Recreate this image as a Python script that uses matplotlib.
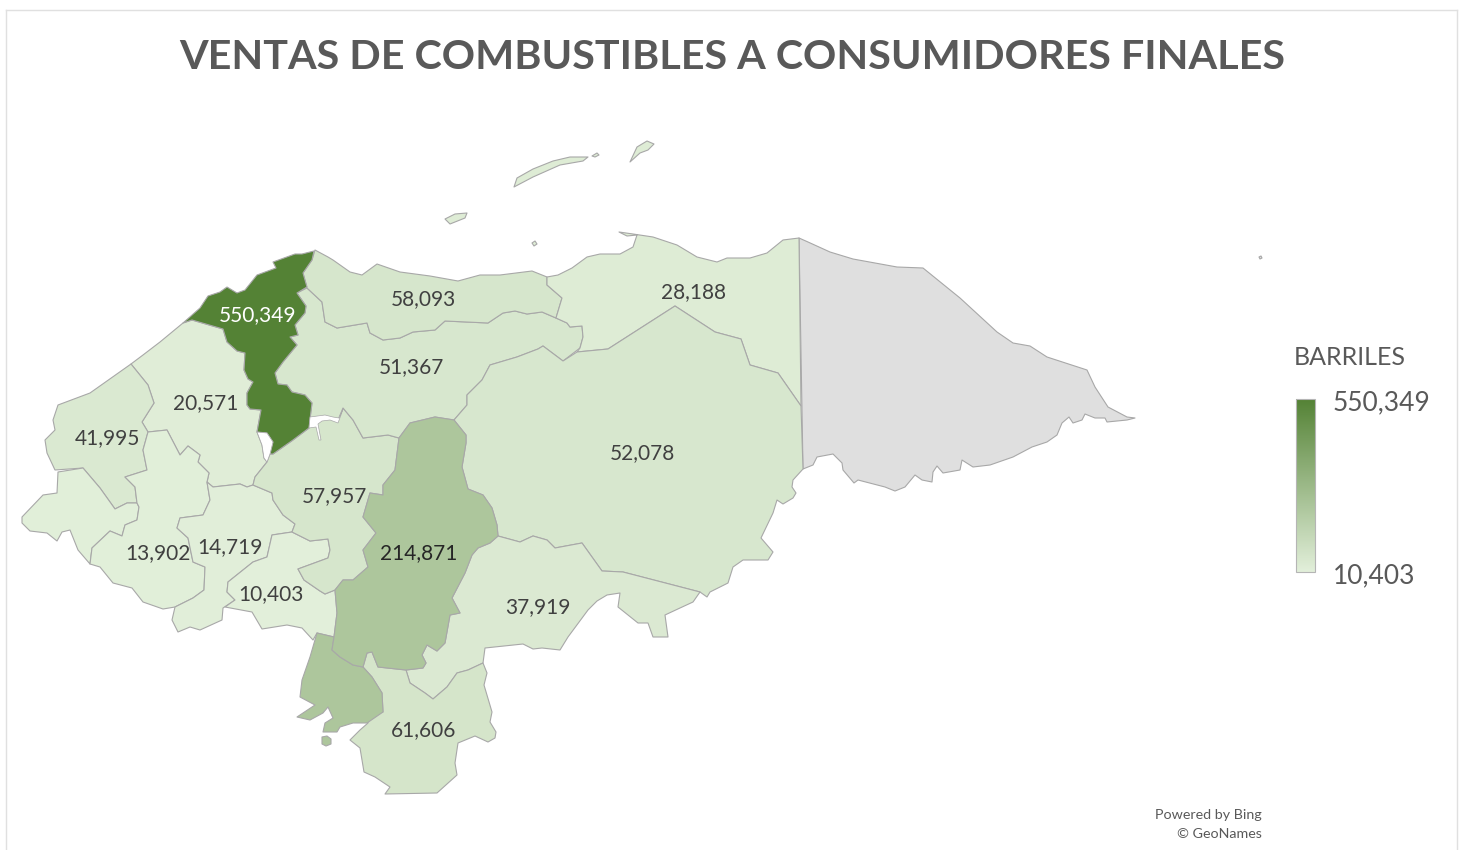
import matplotlib
matplotlib.use("Agg")
import matplotlib.pyplot as plt
from matplotlib.colors import LinearSegmentedColormap, Normalize
from matplotlib.cm import ScalarMappable
from matplotlib.patches import Polygon

TITLE = "VENTAS DE COMBUSTIBLES A CONSUMIDORES FINALES"
LEGEND_TITLE = "BARRILES"
VMIN, VMAX = 10403, 550349
CREDIT = ["Powered by Bing", "© GeoNames"]

# department outlines (map geometry traced in picture coordinates)
cortes = [(314,251),(302,254),(295,254),(273,262),(276,268),(257,275),(245,290),(237,293),(227,287),(220,292),(208,296),(200,308),(183,323),(192,320),(223,329),(227,342),(237,351),(245,353),(244,370),(248,379),(253,382),(247,393),(247,405),(250,409),(261,410),(257,432),(267,433),(273,442),(270,454),(273,454),(293,440),(309,428),(312,403),(305,395),(292,392),(287,385),(278,384),(275,373),(283,362),(297,345),(290,337),(298,335),(295,325),(305,313),(306,306),(297,293),(307,287),(303,273),(312,260)]
atlantida = [(315,250),(328,257),(333,260),(350,272),(362,275),(377,264),(400,272),(430,276),(458,281),(480,275),(500,275),(532,271),(547,277),(547,285),(562,298),(556,318),(542,312),(527,314),(515,311),(503,313),(488,323),(445,321),(435,330),(413,332),(400,338),(383,340),(370,333),(367,323),(337,328),(325,322),(322,302),(307,288),(303,273),(312,260)]
yoro = [(307,288),(322,302),(325,322),(337,328),(367,323),(370,333),(383,340),(400,338),(413,332),(435,330),(445,321),(488,323),(503,313),(515,311),(527,314),(542,312),(556,318),(567,323),(570,327),(582,326),(583,337),(580,348),(563,361),(543,346),(538,349),(517,357),(490,365),(482,380),(467,395),(467,405),(454,420),(435,417),(410,423),(399,438),(388,435),(363,438),(353,420),(343,408),(338,420),(325,416),(310,418),(312,403),(305,395),(292,392),(287,385),(278,384),(275,373),(283,362),(297,345),(290,337),(298,335),(295,325),(305,313),(306,306),(297,293)]
colon = [(547,277),(558,275),(572,268),(587,257),(600,254),(620,254),(633,247),(637,235),(627,236),(619,232),(633,234),(653,237),(677,245),(697,257),(717,262),(727,258),(750,258),(767,253),(783,240),(799,238),(801,406),(778,373),(750,365),(741,339),(715,332),(675,306),(608,349),(577,352),(580,348),(583,337),(582,326),(570,327),(567,323),(556,318),(562,298),(547,285)]
olancho = [(454,420),(467,405),(467,395),(482,380),(490,365),(517,357),(538,349),(543,346),(563,361),(577,352),(608,349),(675,306),(715,332),(741,339),(750,365),(778,373),(801,406),(803,469),(793,480),(792,487),(796,493),(793,498),(783,504),(777,500),(773,513),(761,538),(773,552),(768,560),(743,560),(733,567),(728,583),(710,592),(707,597),(700,592),(623,572),(602,571),(582,543),(555,548),(547,540),(533,536),(520,542),(498,536),(497,525),(492,508),(483,495),(468,489),(462,467),(466,443),(466,435)]
el_paraiso = [(498,536),(520,542),(533,536),(547,540),(555,548),(582,543),(602,571),(623,572),(700,592),(693,602),(680,608),(665,615),(668,637),(653,637),(648,623),(638,623),(618,607),(620,593),(607,595),(597,601),(588,610),(568,637),(560,650),(542,648),(533,649),(523,644),(485,648),(483,663),(468,670),(457,673),(447,687),(433,699),(425,693),(410,683),(406,670),(423,668),(426,663),(422,655),(427,645),(437,651),(445,643),(450,615),(460,613),(452,598),(465,573),(472,555),(478,548),(490,543)]
fco_morazan = [(454,420),(466,435),(466,443),(462,467),(468,489),(483,495),(492,508),(497,525),(498,536),(490,543),(478,548),(472,555),(465,573),(452,598),(460,613),(450,615),(445,643),(437,651),(427,645),(422,655),(426,663),(423,668),(406,670),(378,667),(372,652),(367,653),(363,667),(353,665),(340,657),(332,650),(334,637),(337,613),(335,590),(343,580),(353,580),(368,567),(363,550),(376,533),(363,517),(370,493),(383,495),(383,485),(395,470),(399,438),(410,423),(435,417)]
comayagua = [(270,454),(273,454),(293,440),(309,428),(312,418),(325,416),(338,420),(343,408),(353,420),(363,438),(388,435),(399,438),(395,470),(383,485),(383,495),(370,493),(363,517),(376,533),(363,550),(368,567),(353,580),(343,580),(335,590),(325,594),(320,591),(304,580),(298,569),(328,558),(330,550),(328,539),(310,541),(292,532),(295,524),(283,515),(273,500),(272,493),(253,485),(255,477),(267,462)]
santa_barbara = [(183,323),(192,320),(223,329),(227,342),(237,351),(245,353),(244,370),(248,379),(253,382),(247,393),(247,405),(250,409),(261,410),(257,432),(262,445),(264,458),(267,462),(255,477),(253,485),(247,487),(240,484),(213,487),(207,482),(209,473),(198,462),(200,455),(188,446),(180,455),(167,430),(148,432),(142,422),(154,403),(148,385),(131,364),(143,355),(160,342)]
copan = [(131,364),(90,393),(58,405),(53,420),(55,430),(45,440),(47,453),(55,470),(83,468),(100,488),(115,509),(127,503),(137,503),(135,487),(125,477),(147,470),(143,450),(148,432),(142,422),(154,403),(148,385)]
ocotepeque = [(58,472),(57,493),(43,495),(22,517),(22,523),(30,531),(47,533),(57,541),(62,532),(70,530),(78,550),(90,564),(92,548),(110,531),(122,536),(125,525),(137,520),(139,507),(137,503),(127,503),(115,509),(100,488),(83,468)]
lempira = [(137,503),(135,487),(125,477),(147,470),(143,450),(148,432),(167,430),(180,455),(188,446),(200,455),(198,462),(209,473),(207,482),(210,500),(203,515),(180,518),(177,528),(188,538),(193,562),(205,567),(204,590),(193,598),(175,607),(163,609),(143,602),(132,588),(113,583),(100,567),(90,564),(92,548),(110,531),(122,536),(125,525),(137,520),(139,507)]
intibuca = [(207,482),(213,487),(240,484),(247,487),(253,485),(272,493),(273,500),(283,515),(295,524),(292,532),(272,535),(267,557),(253,562),(228,582),(227,592),(235,600),(223,608),(222,620),(200,630),(190,627),(178,632),(172,620),(175,607),(193,598),(204,590),(205,567),(193,562),(188,538),(177,528),(180,518),(203,515),(210,500)]
la_paz = [(292,532),(310,541),(328,539),(330,550),(328,558),(298,569),(304,580),(320,591),(325,594),(335,590),(337,613),(334,637),(317,633),(313,640),(302,628),(287,625),(262,629),(252,612),(225,607),(235,600),(227,592),(228,582),(253,562),(267,557),(272,535)]
valle = [(317,633),(334,637),(332,650),(340,657),(353,665),(363,667),(372,677),(382,693),(383,712),(367,723),(353,723),(340,727),(337,732),(323,732),(325,723),(333,718),(328,707),(323,713),(310,720),(297,717),(315,705),(300,697),(302,680),(310,657)]
valle_island = [(322,737),(327,736),(331,739),(331,744),(326,746),(322,744)]
choluteca = [(363,667),(367,653),(372,652),(378,667),(406,670),(410,683),(425,693),(433,699),(447,687),(457,673),(468,670),(483,663),(487,673),(484,685),(492,712),(490,722),(496,732),(495,738),(488,742),(475,736),(458,743),(455,763),(457,775),(437,793),(385,794),(390,787),(375,777),(364,772),(360,748),(350,740),(360,730),(368,723),(368,715),(383,712),(382,693),(372,677)]
gracias_a_dios = [(799,238),(808,242),(830,252),(853,259),(897,267),(923,268),(960,298),(997,332),(1013,343),(1030,346),(1047,357),(1087,370),(1095,387),(1108,407),(1127,417),(1135,418),(1127,420),(1107,422),(1105,418),(1095,418),(1085,414),(1082,420),(1073,423),(1069,417),(1062,423),(1057,435),(1047,442),(1032,447),(1013,457),(990,465),(973,467),(962,460),(960,470),(943,473),(937,466),(933,472),(932,482),(922,480),(915,475),(905,487),(895,491),(885,487),(858,480),(854,483),(843,470),(842,463),(833,454),(817,457),(813,465),(803,469)]
roatan = [(514,187),(517,178),(533,169),(553,161),(570,157),(588,157),(583,161),(560,165),(533,177)]
barbareta = [(592,156),(597,153),(599,155),(595,157)]
guanaja = [(630,162),(637,147),(647,141),(654,144),(648,150),(640,153)]
utila = [(445,219),(455,214),(467,213),(465,218),(450,224)]
cayo = [(532,243),(535,241),(537,244),(534,246)]
swan = [(1259,257),(1261,256),(1262,258),(1260,259)]
lake_yojoa = [(257,432),(267,433),(273,442),(270,454),(267,462),(264,458),(262,445)]
lake_channel = [(310,417),(325,415),(333,417),(339,418),(343,409),(341,415),(338,423),(330,420),(322,421),(318,424),(321,440),(319,440),(316,427),(309,428)]

# (outline, barrels used for the colour, printed label, label position)
departments = [
    (santa_barbara, 20571, "20,571", (206,402)),
    (copan, 41995, "41,995", (107,437)),
    (ocotepeque, 14000, None, None),
    (lempira, 13902, "13,902", (158,552)),
    (intibuca, 14719, "14,719", (230,546)),
    (la_paz, 10403, "10,403", (271,593)),
    (comayagua, 57957, "57,957", (334,495)),
    (yoro, 51367, "51,367", (411,366)),
    (atlantida, 58093, "58,093", (423,298)),
    (colon, 28188, "28,188", (694,291)),
    (olancho, 52078, "52,078", (642,452)),
    (el_paraiso, 37919, "37,919", (538,606)),
    (choluteca, 61606, "61,606", (424,729)),
    (valle, 214871, None, None),
    (valle_island, 214871, None, None),
    (fco_morazan, 214871, "214,871", (419,552)),
    (cortes, 550349, "550,349", (258,314)),
    (roatan, 28000, None, None),
    (barbareta, 28000, None, None),
    (guanaja, 28000, None, None),
    (utila, 28000, None, None),
    (cayo, 28000, None, None),
]
no_data = [gracias_a_dios, swan]

plt.rcParams['font.family'] = ['Lato', 'DejaVu Sans']
fig = plt.figure(figsize=(14.59, 8.5), dpi=100, facecolor='white')
ax = fig.add_axes([0, 0, 1, 1])
ax.set_xlim(0, 1459)
ax.set_ylim(850, 0)
ax.axis('off')

cmap = LinearSegmentedColormap.from_list('greens', ['#e2efda', '#548235'])
norm = Normalize(VMIN, VMAX)
EDGE = '#a8a8a8'

ax.plot([6, 6], [850, 10], color='#e0e0e0', lw=1)
ax.plot([6, 1457], [10, 10], color='#e0e0e0', lw=1)
ax.plot([1457, 1457], [10, 850], color='#e0e0e0', lw=1)

for outline in no_data:
    ax.add_patch(Polygon(outline, closed=True, fc='#dfdfdf', ec=EDGE, lw=0.8, joinstyle='round'))
for outline, value, label, pos in departments:
    ax.add_patch(Polygon(outline, closed=True, fc=cmap(norm(value)), ec=EDGE, lw=0.8, joinstyle='round'))
ax.add_patch(Polygon(lake_yojoa, closed=True, fc='white', ec=EDGE, lw=0.5))
ax.add_patch(Polygon(lake_channel, closed=True, fc='white', ec=EDGE, lw=0.5))
for outline, value, label, pos in departments:
    if label:
        col = 'white' if value > 400000 else ('#262626' if value > 100000 else '#404040')
        ax.text(pos[0], pos[1] + 1.5, label, ha='center', va='center', fontsize=15, color=col)

ax.text(732, 57, TITLE, ha='center', va='center', fontsize=29.7, fontweight='bold', color='#595959')
ax.text(1294, 357, LEGEND_TITLE, ha='left', va='center', fontsize=18, color='#595959')
ax.text(1333, 403, f"{VMAX:,}", ha='left', va='center', fontsize=19, color='#595959')
ax.text(1333, 576, f"{VMIN:,}", ha='left', va='center', fontsize=19, color='#595959')
ax.text(1262, 815, CREDIT[0], ha='right', va='center', fontsize=10.3, color='#595959')
ax.text(1262, 834, CREDIT[1], ha='right', va='center', fontsize=10.3, color='#595959')

cax = fig.add_axes([1296/1459, 1-572/850, 19/1459, 173/850])
cb = fig.colorbar(ScalarMappable(norm=norm, cmap=cmap), cax=cax)
cb.set_ticks([])
cb.outline.set_edgecolor('#b5b5b5')
cb.outline.set_linewidth(0.8)

fig.savefig('out.png', dpi=100)
